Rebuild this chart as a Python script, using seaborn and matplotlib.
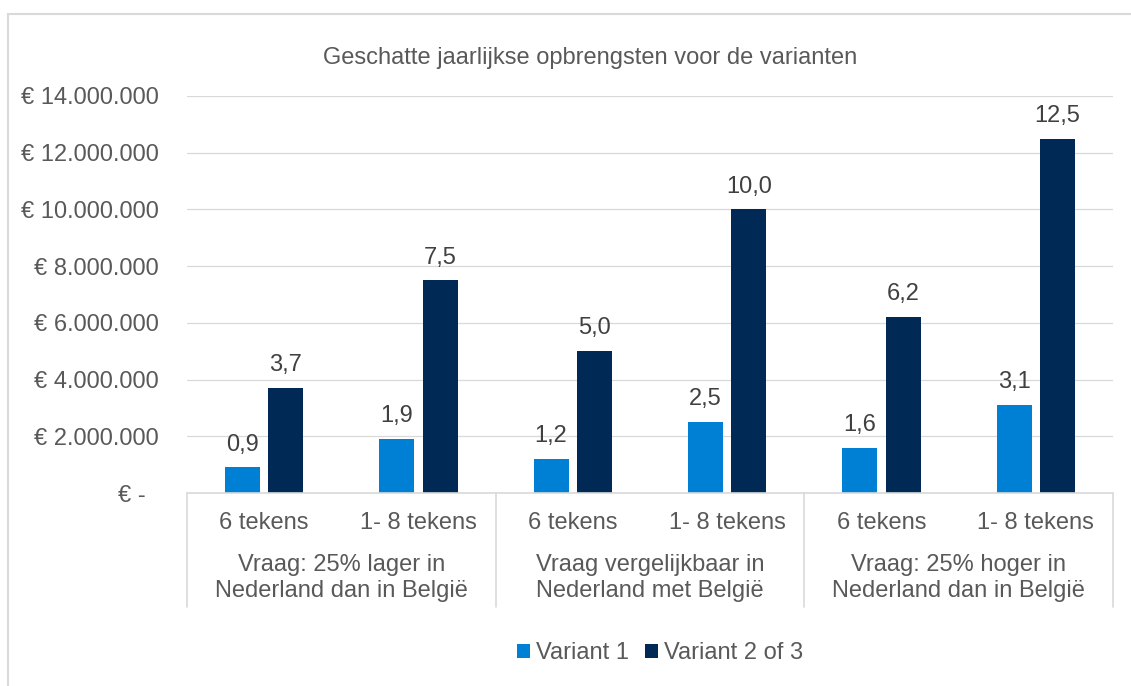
import matplotlib
matplotlib.use("Agg")
import matplotlib.pyplot as plt
import matplotlib.ticker as mticker
from matplotlib.lines import Line2D
from matplotlib.patches import Patch
import pandas as pd
import seaborn as sns

# ── data (values in millions of euros) ──────────────────────────────
GROUPS = [
    "Vraag: 25% lager in\nNederland dan in België",
    "Vraag vergelijkbaar in\nNederland met België",
    "Vraag: 25% hoger in\nNederland dan in België",
]
SUBCATS = ["6 tekens", "1- 8 tekens"]
SERIES = ["Variant 1", "Variant 2 of 3"]
VARIANT_1 = [0.9, 1.9, 1.2, 2.5, 1.6, 3.1]
VARIANT_23 = [3.7, 7.5, 5.0, 10.0, 6.2, 12.5]
TITLE = "Geschatte jaarlijkse opbrengsten voor de varianten"

COLORS = ["#0080D4", "#002955"]
TEXT = "#595959"
LABEL = "#404040"
GRID = "#D9D9D9"

W, H = 1131, 686

sns.set_style("white")
plt.rcParams["font.family"] = ["Liberation Sans", "DejaVu Sans"]
plt.rcParams["font.size"] = 17

# long table: one row per bar
keys = [f"{g}|{s}" for g in GROUPS for s in SUBCATS]
rows = []
for name, vals in zip(SERIES, [VARIANT_1, VARIANT_23]):
    for k, v in zip(keys, vals):
        rows.append({"cat": k, "variant": name, "value": v * 1e6})
df = pd.DataFrame(rows)

fig = plt.figure(figsize=(W / 100, H / 100), dpi=100)
ax = fig.add_axes([187 / W, 1 - 493 / H, (1113 - 187) / W, 397 / H])

sns.barplot(data=df, x="cat", y="value", hue="variant", order=keys,
            hue_order=SERIES, palette=COLORS, saturation=1,
            width=0.564, gap=0.195, linewidth=0, legend=False,
            ax=ax, zorder=3)

# data labels in millions with a decimal comma
for cont, vals in zip(ax.containers, [VARIANT_1, VARIANT_23]):
    ax.bar_label(cont, labels=[f"{v:.1f}".replace(".", ",") for v in vals],
                 padding=8.5, color=LABEL, fontsize=17)

ax.set_ylim(0, 14e6)
ax.set_xlim(-0.5, len(keys) - 0.5)
ax.yaxis.set_major_locator(mticker.MultipleLocator(2e6))


def euro(v, pos):
    if v == 0:
        return "€ -  "
    return "€ " + f"{int(v):,}".replace(",", ".")


ax.yaxis.set_major_formatter(mticker.FuncFormatter(euro))
ax.tick_params(axis="y", length=0, pad=20, labelcolor=TEXT, labelsize=17)
ax.grid(axis="y", color=GRID, linewidth=0.9, zorder=0)
ax.set_axisbelow(True)
for sp in ax.spines.values():
    sp.set_visible(False)
ax.set_xlabel("")
ax.set_ylabel("")

# multi-level category axis
ax.set_xticks(range(len(keys)))
ax.set_xticklabels([])
ax.tick_params(axis="x", length=0)
tr = ax.get_xaxis_transform()
ax.plot([-0.5, len(keys) - 0.5], [0, 0], color=GRID, lw=1.2,
        transform=tr, clip_on=False, zorder=4)
for b in range(len(GROUPS) + 1):
    xb = -0.5 + b * len(SUBCATS)
    ax.plot([xb, xb], [0, -0.287], color=GRID, lw=1.2, transform=tr,
            clip_on=False)
for i, k in enumerate(keys):
    ax.text(i, -0.076, k.split("|")[1], transform=tr, ha="center",
            va="center", color=TEXT, fontsize=17)
for g, name in enumerate(GROUPS):
    xc = g * len(SUBCATS) + (len(SUBCATS) - 1) / 2
    ax.text(xc, -0.214, name, transform=tr, ha="center", va="center",
            color=TEXT, fontsize=17, linespacing=1.2)

fig.text(590 / W, 1 - 58 / H, TITLE, ha="center", va="center",
         color=TEXT, fontsize=17)

handles = [Patch(facecolor=c, edgecolor="none") for c in COLORS]
fig.legend(handles, SERIES, loc="center", bbox_to_anchor=(660 / W, 1 - 653 / H),
           ncol=2, frameon=False, fontsize=17, labelcolor=TEXT,
           handlelength=0.55, handleheight=0.55, handletextpad=0.25,
           columnspacing=0.7)

# outer chart border (only top/left fall inside the picture)
fig.add_artist(Line2D([8 / W, 1.0], [1 - 14 / H, 1 - 14 / H],
                      transform=fig.transFigure, color=GRID, lw=1.5))
fig.add_artist(Line2D([8 / W, 8 / W], [0, 1 - 14 / H],
                      transform=fig.transFigure, color=GRID, lw=1.5))

fig.savefig("out.png", dpi=100)
plt.close(fig)
